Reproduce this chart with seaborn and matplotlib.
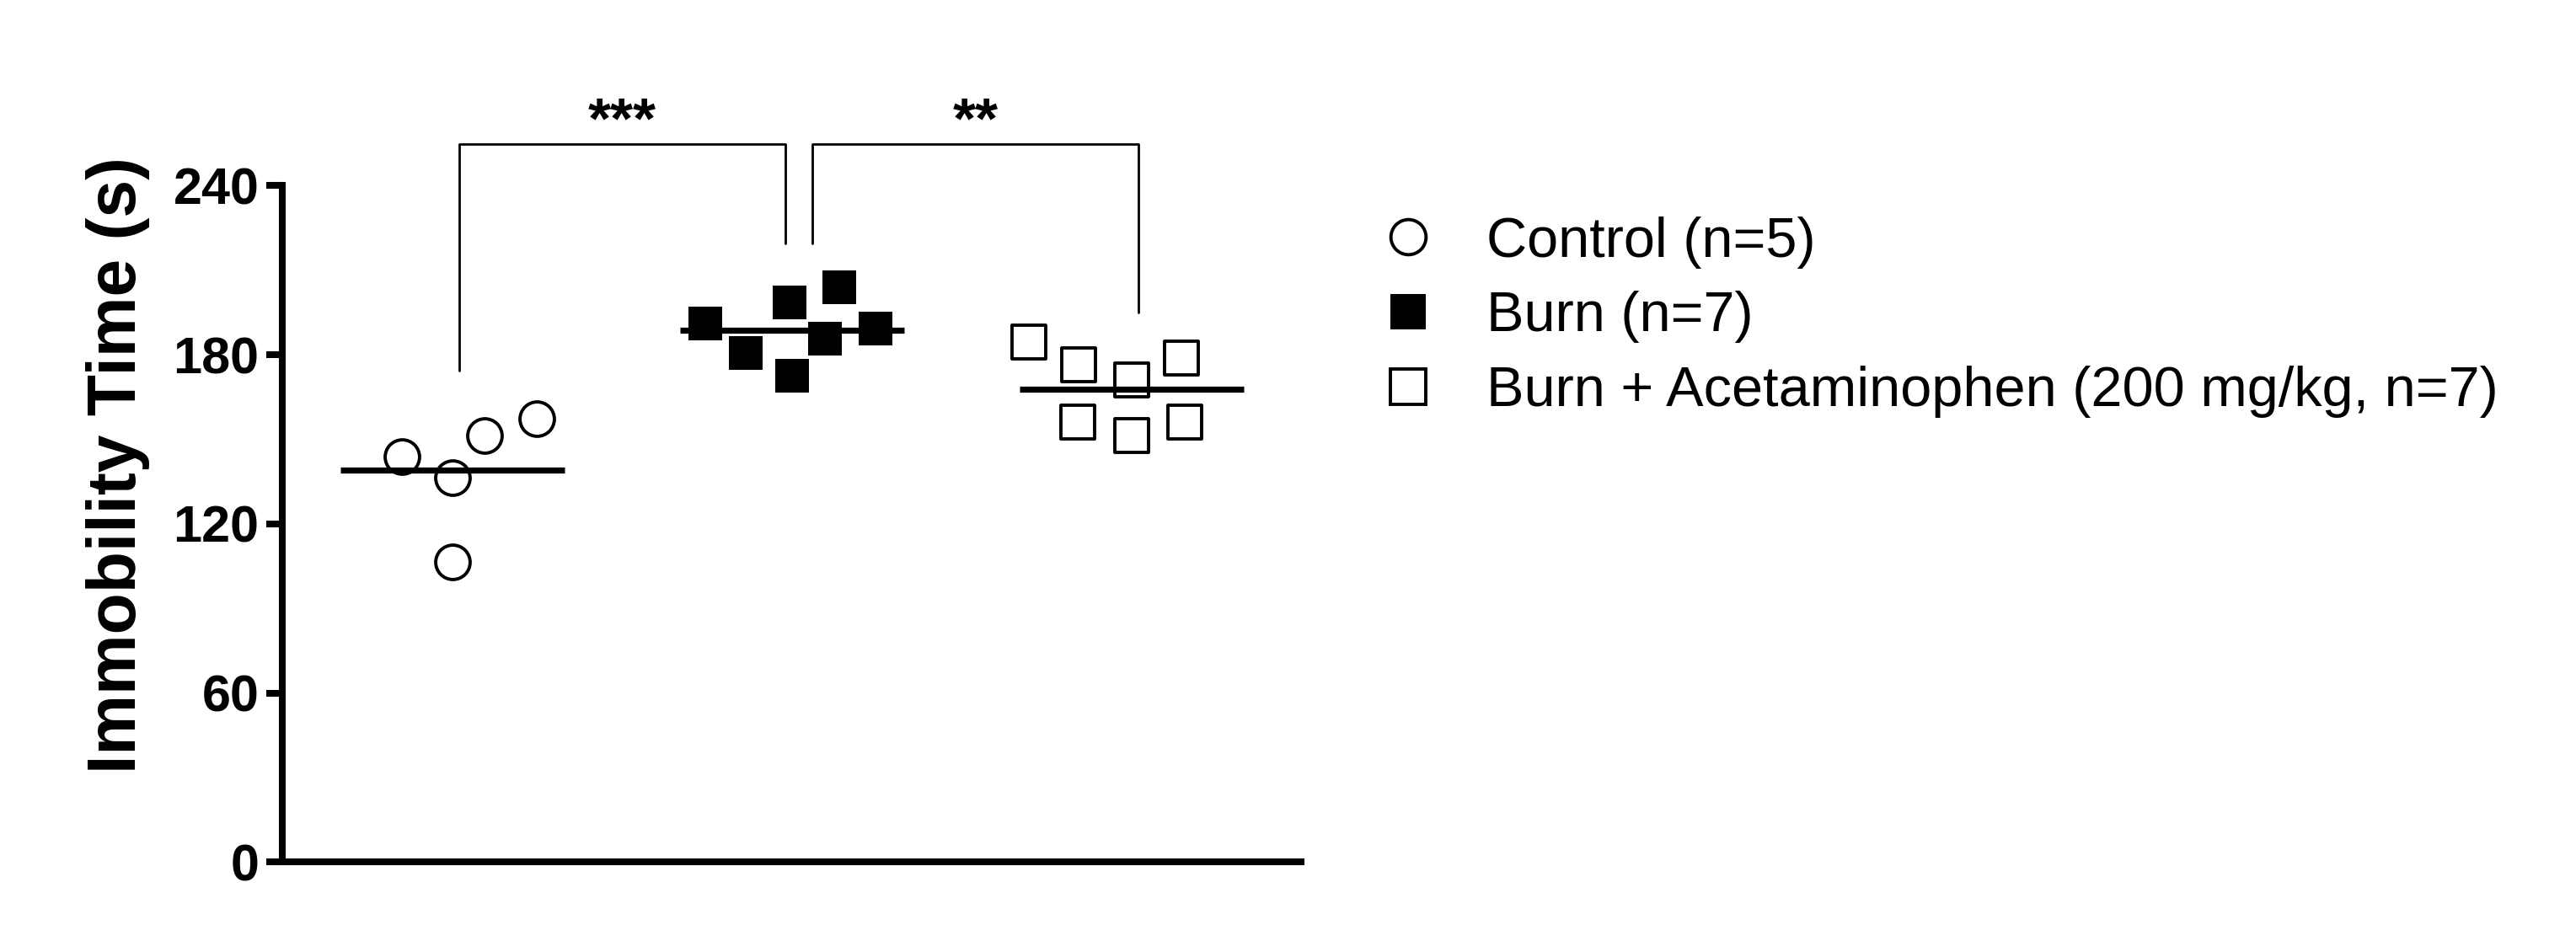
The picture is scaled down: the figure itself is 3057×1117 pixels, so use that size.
import numpy as np
import pandas as pd
import matplotlib
matplotlib.use('Agg')
import matplotlib.pyplot as plt
from matplotlib.lines import Line2D
from matplotlib.markers import MarkerStyle
from matplotlib.transforms import Affine2D
import seaborn as sns

# data
groups = ['Control', 'Burn', 'Burn + Acetaminophen']
legend_labels = ['Control (n=5)', 'Burn (n=7)', 'Burn + Acetaminophen (200 mg/kg, n=7)']
control = [143.9, 157.3, 151.4, 136.3, 106.6]
burn = [191.0, 185.8, 203.8, 198.6, 172.4, 180.5, 189.3]
burn_acet = [184.6, 176.5, 171.2, 178.8, 156.1, 151.4, 156.1]
yticks = [0, 60, 120, 180, 240]

# significance brackets: (x0, x1, y_left, y_top, y_right, label)
brackets = [(0.02, 0.98, 174.3, 254.8, 219.4, '***'),
            (1.06, 2.02, 219.4, 254.8, 195.1, '**')]

df = pd.DataFrame({
    'group': ['Control'] * len(control) + ['Burn'] * len(burn) + ['Burn + Acetaminophen'] * len(burn_acet),
    'time': control + burn + burn_acet,
})

sns.set_style('white')
plt.rcParams['font.family'] = ['Liberation Sans', 'DejaVu Sans']
plt.rcParams['text.color'] = 'black'
plt.rcParams['axes.labelcolor'] = 'black'

fig = plt.figure(figsize=(15.285, 5.585), dpi=200)
ax = fig.add_axes([0.1097, 0.0838, 0.3954, 0.719])

# swarm spacing is worked out from `size`; the drawn glyph is scaled down
# so the points spread out a bit more, like the original
shrink = Affine2D().scale(0.7)
styles = {
    'Control': dict(marker=MarkerStyle('o', transform=shrink), color='white', edgecolor='black', linewidth=1.4),
    'Burn': dict(marker=MarkerStyle('s', transform=shrink), color='black', edgecolor='black', linewidth=0),
    'Burn + Acetaminophen': dict(marker=MarkerStyle('s', transform=shrink), color='white', edgecolor='black', linewidth=1.4),
}
for g in groups:
    sns.swarmplot(data=df[df['group'] == g], x='group', y='time', order=groups,
                  size=21, ax=ax, zorder=2, **styles[g])

means = df.groupby('group')['time'].mean().reindex(groups)
ax.hlines(means.values, np.arange(3) - 0.33, np.arange(3) + 0.33, color='black', lw=2.6, zorder=3)

for x0, x1, yl, yt, yr, lab in brackets:
    ax.plot([x0, x0, x1, x1], [yl, yt, yt, yr], color='black', lw=1.0, clip_on=False)
    ax.text((x0 + x1) / 2, yt - 2, lab, ha='center', va='bottom', fontsize=25, fontweight='bold', color='black')

ax.set_xlim(-0.5, 2.5)
ax.set_ylim(0, 240)
ax.set_yticks(yticks)
ax.set_yticklabels([str(t) for t in yticks], fontsize=22, fontweight='bold')
ax.set_xticks([])
ax.set_xlabel('')
ax.set_ylabel('Immobility Time (s)', fontsize=29, fontweight='bold', color='black')
ax.yaxis.set_label_coords(-0.13, 0.587)
sns.despine(ax=ax)
for s in ['left', 'bottom']:
    ax.spines[s].set_linewidth(2.9)
    ax.spines[s].set_color('black')
ax.tick_params(axis='y', which='major', direction='out', length=7, width=2.9, left=True, pad=3, colors='black')

handles = [
    Line2D([], [], ls='none', marker='o', ms=15, mfc='white', mec='black', mew=1.4),
    Line2D([], [], ls='none', marker='s', ms=15, mfc='black', mec='black', mew=0),
    Line2D([], [], ls='none', marker='s', ms=15, mfc='white', mec='black', mew=1.4),
]
leg = fig.legend(handles, legend_labels, loc='upper left', bbox_to_anchor=(0.516, 0.824),
                 frameon=False, handlelength=1.0, handletextpad=0.9, labelspacing=0.4,
                 prop={'size': 24})
for t in leg.get_texts():
    t.set_color('black')

plt.savefig('out.png', dpi=200)
